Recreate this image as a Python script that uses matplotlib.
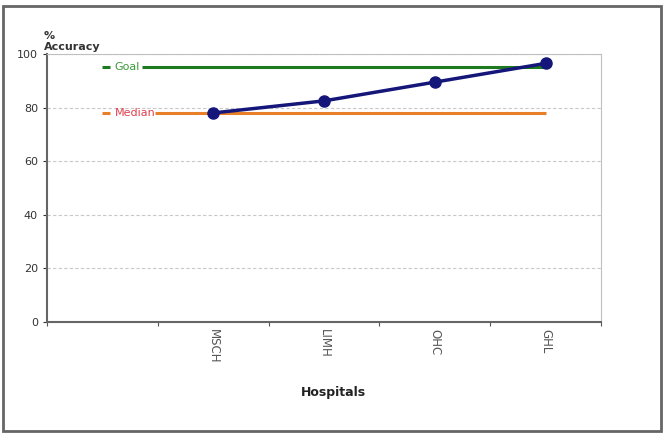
import matplotlib.pyplot as plt
from matplotlib.patches import Rectangle

# data
hospitals = ["", "MSCH", "LIMH", "OHC", "GHL"]
accuracy = [None, 78, 82.5, 89.5, 96.5]
goal = 95
median = 78

yticks = [0, 20, 40, 60, 80, 100]

fig = plt.figure(figsize=(6.66, 4.36), dpi=100)
ax = fig.add_axes([0.0706, 0.2615, 0.832, 0.6147])

x = list(range(len(hospitals)))
xs = [i for i, v in zip(x, accuracy) if v is not None]
ys = [v for v in accuracy if v is not None]

# goal and median reference lines with inline labels
ax.plot([0.36, 4], [goal, goal], color="#1e7a1e", lw=2.2, solid_capstyle="butt", zorder=3)
ax.plot([0.0, 0.07], [goal, goal], color="#1e7a1e", lw=2.2, solid_capstyle="butt")
ax.text(0.11, goal, "Goal", color="#3a9a3a", fontsize=8, va="center", ha="left")

ax.plot([0.47, 4], [median, median], color="#e8802a", lw=2.2, solid_capstyle="butt", zorder=3)
ax.plot([0.0, 0.07], [median, median], color="#e8802a", lw=2.2, solid_capstyle="butt")
ax.text(0.11, median, "Median", color="#e04050", fontsize=8, va="center", ha="left")

ax.plot(xs, ys, color="#14167a", lw=2.5, marker="o", markersize=8, zorder=4)

ax.set_xlim(-0.5, 4.5)
ax.set_ylim(0, 100)
ax.set_yticks(yticks)
ax.set_xticks([i + 0.5 for i in range(-1, 5)], minor=False)
ax.set_xticklabels([])
for i, name in enumerate(hospitals):
    if name:
        ax.text(i, -2.5, name, rotation=270, ha="center", va="top",
                fontsize=8.5, color="#555555", transform=ax.transData)

ax.tick_params(axis="x", length=3, color="#555555")
ax.tick_params(axis="y", length=3, labelsize=8, colors="#333333")
ax.yaxis.grid(True, linestyle=(0, (3, 2)), color="#c8c8c8", lw=0.8)
ax.set_axisbelow(True)

ax.spines["left"].set_color("#666666")
ax.spines["bottom"].set_color("#666666")
ax.spines["left"].set_linewidth(1.5)
ax.spines["bottom"].set_linewidth(1.5)
ax.spines["top"].set_color("#c0c0c0")
ax.spines["right"].set_color("#c0c0c0")

fig.text(0.066, 0.905, "%\nAccuracy", fontsize=8, fontweight="bold",
         color="#333333", ha="left", va="center", linespacing=1.1)
fig.text(0.5, 0.1, "Hospitals", fontsize=9, fontweight="bold",
         color="#222222", ha="center", va="center")

fig.patches.append(Rectangle((0.004, 0.012), 0.988, 0.975, transform=fig.transFigure,
                             fill=False, edgecolor="#666666", lw=2))

fig.savefig("out.png", dpi=100)
